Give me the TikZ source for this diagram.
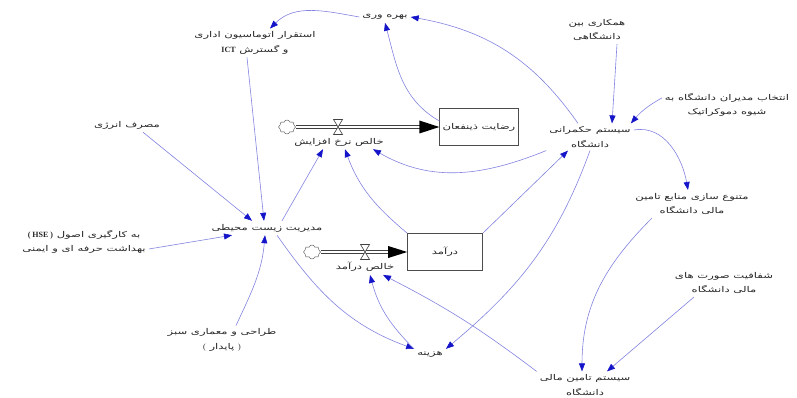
\documentclass[tikz,border=0pt]{standalone}
\usepackage{fontspec}
\newfontfamily\fa[Script=Arabic,FakeStretch=1.45]{DejaVu Sans}
\newfontfamily\lat{Liberation Serif}
\TeXXeTstate=1
\usetikzlibrary{arrows.meta,shapes.symbols,calc}

\definecolor{linkblue}{RGB}{130,130,225}
\definecolor{headblue}{RGB}{20,20,200}
\newcommand{\rtltext}[1]{\beginR #1\endR}

\tikzstyle{Var}=[align=center,inner sep=3pt,text=black!85,
  font=\fa\fontsize{8}{14.5}\selectfont]
\tikzstyle{Stock}=[Var,rectangle,draw=black!70,line width=0.6pt,
  minimum width=75pt,minimum height=37pt]
\tikzstyle{Link}=[draw=linkblue,line width=0.6pt,
  -{Triangle[length=8pt,width=6pt,color=headblue]}]
\tikzstyle{Pipe}=[draw=black!75,double=white,double distance=2.4pt,line width=0.7pt]
\tikzstyle{Source}=[cloud,cloud puffs=8,aspect=1.3,draw=black!70,fill=white,
  minimum width=17pt,minimum height=14pt,inner sep=0pt]

\begin{document}
\begin{tikzpicture}[x=1pt, y=1pt]
		\useasboundingbox (0,0) rectangle (797,-398);
		
		% Variables
		\node[Var] (Prod) at (385,-17) {\rtltext{بهره وری}};
		\node[Var] (Office) at (255,-43) {\rtltext{استقرار اتوماسیون اداری}\\
		  \rtltext{و گسترش \beginL{\lat\bfseries ICT}\endL}};
		\node[Var] (Coop) at (597,-30) {\rtltext{همکاری بین}\\\rtltext{دانشگاهی}};
		\node[Var] (Democ) at (727,-105) {\rtltext{انتخاب مدیران دانشگاه به}\\
		  \rtltext{شیوه دموکراتیک}};
		\node[Var] (Energy) at (127,-125) {\rtltext{مصرف انرژی}};
		\node[Var] (Gov) at (590,-137) {\rtltext{سیستم حکمرانی}\\\rtltext{دانشگاه}};
		\node[Var] (Divers) at (692,-204) {\rtltext{متنوع سازی منابع تامین}\\
		  \rtltext{مالی دانشگاه}};
		\node[Var] (Env) at (267,-228) {\rtltext{مدیریت زیست محیطی}};
		\node[Var] (Hse) at (84,-242) {\rtltext{به کارگیری اصول \beginL{\lat\bfseries ( HSE )}\endL}\\
		  \rtltext{بهداشت حرفه ای و ایمنی}};
		\node[Var] (Transp) at (724,-283) {\rtltext{شفافیت صورت های}\\\rtltext{مالی دانشگاه}};
		\node[Var] (Green) at (222,-340) {\rtltext{طراحی و معماری سبز}\\
		  \rtltext{{\lat)} پایدار {\lat(}}};
		\node[Var] (Cost) at (430,-355) {\rtltext{هزینه}};
		\node[Var] (Finance) at (585,-385) {\rtltext{سیستم تامین مالی}\\\rtltext{دانشگاه}};
		
		% Stocks
		\node[Stock] (Satisf) at (479,-127) {\rtltext{رضایت ذینفعان}};
		\node[Stock] (Income) at (445,-252) {\rtltext{درآمد}};
		
		% Flow 1
		\node[Source] (SrcA) at (287,-127) {};
		\draw[Pipe] (SrcA.east) -- ($(Satisf.west)+(-18,0)$);
		\fill[black] ($(Satisf.west)+(-20,6.5)$) -- (Satisf.west) -- ($(Satisf.west)+(-20,-6.5)$) -- cycle;
		\coordinate (RateA) at (338,-127);
		\filldraw[fill=white,draw=black!75,line width=0.6pt] ($(RateA)+(-4.5,7.5)$) -- ++(9,0) -- ++(-9,-15) -- ++(9,0) -- cycle;
		\node[Var] (RateAName) at (339,-142) {\rtltext{خالص نرخ افزایش}};
		
		% Flow 2
		\node[Source] (SrcB) at (312,-252) {};
		\draw[Pipe] (SrcB.east) -- ($(Income.west)+(-17,0)$);
		\fill[black] ($(Income.west)+(-19,6)$) -- (Income.west) -- ($(Income.west)+(-19,-6)$) -- cycle;
		\coordinate (RateB) at (365,-252);
		\filldraw[fill=white,draw=black!75,line width=0.6pt] ($(RateB)+(-4.5,7.5)$) -- ++(9,0) -- ++(-9,-15) -- ++(9,0) -- cycle;
		\node[Var] (RateBName) at (365,-267) {\rtltext{خالص درآمد}};
		
		% Links
		\draw[Link] ([xshift=-12pt]Gov.north) to[out=125,in=-10] (Prod.east);
		\draw[Link] ([yshift=6pt]Satisf.west) to[out=150,in=-75] (Prod.south);
		\draw[Link] (Prod.west) to[out=170,in=45] ([xshift=15pt]Office.north);
		\draw[Link] ([xshift=-8pt]Office.south) -- ([xshift=-3pt]Env.north);
		\draw[Link] ([xshift=16pt]Energy.south) -- ([xshift=-15pt]Env.north);
		\draw[Link] ([yshift=-7pt]Hse.east) -- ([xshift=-35pt]Env.south);
		\draw[Link] ([xshift=14pt]Green.north) to[out=65,in=-95] ([xshift=-2pt]Env.south);
		\draw[Link] ([xshift=15pt]Env.north) -- ([xshift=-16pt]RateAName.south);
		\draw[Link] (Income.north west) to[out=140,in=-70] ([xshift=6pt]RateAName.south);
		\draw[Link] (Gov.south west) to[out=202,in=-30] ([xshift=34pt]RateAName.south);
		\draw[Link] (Income.north east) -- ([xshift=-22pt]Gov.south);
		\draw[Link] (Gov.south) to[out=250,in=40] (Cost.north east);
		\draw[Link] ([xshift=10pt]Env.south) to[out=-55,in=160] (Cost.north west);
		\draw[Link] (Cost.north west) to[out=135,in=-75] ([xshift=5pt]RateBName.south);
		\draw[Link] (Finance.north west) to[bend right=5] ([xshift=18pt]RateBName.south);
		\draw[Link] ([xshift=-40pt]Divers.south) to[out=225,in=90] ([xshift=-3pt]Finance.north);
		\draw[Link] ([xshift=-30pt]Transp.south) -- ([xshift=22pt]Finance.north);
		\draw[Link] ([yshift=7pt]Gov.east) to[out=10,in=100] ([xshift=-4pt]Divers.north);
		\draw[Link] ([xshift=20pt]Coop.south) -- ([xshift=22pt]Gov.north);
		\draw[Link] ([yshift=7pt]Democ.west) to[bend right=10] ([xshift=-3pt]Gov.north east);
		
	\end{tikzpicture}
\end{document}
